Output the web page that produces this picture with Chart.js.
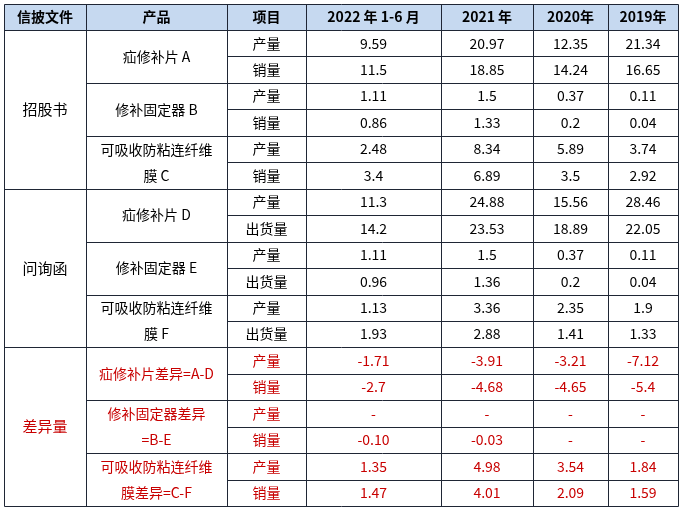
<!DOCTYPE html>
<html><head><meta charset="utf-8">
<script src="https://cdn.jsdelivr.net/npm/chart.js@4/dist/chart.umd.min.js"></script>
<style>html,body{margin:0;background:#fff}#c{width:682px;height:512px}</style>
</head><body><div id="c"><canvas id="tbl"></canvas></div>
<script>
const headers = ['信披文件', '产品', '项目', '2022 年 1-6 月', '2021 年', '2020年', '2019年'];
const groups = ['招股书', '问询函', '差异量'];
const products = [
    ['疝修补片 A', '修补固定器 B', '可吸收防粘连纤维\n膜 C'],
    ['疝修补片 D', '修补固定器 E', '可吸收防粘连纤维\n膜 F'],
    ['疝修补片差异=A-D', '修补固定器差异\n=B-E', '可吸收防粘连纤维\n膜差异=C-F']
];
const items = [
    ['产量', '销量'], ['产量', '出货量'], ['产量', '销量']
];
const y2022 = ['9.59','11.5','1.11','0.86','2.48','3.4','11.3','14.2','1.11','0.96','1.13','1.93','-1.71','-2.7','-','-0.10','1.35','1.47'];
const y2021 = ['20.97','18.85','1.5','1.33','8.34','6.89','24.88','23.53','1.5','1.36','3.36','2.88','-3.91','-4.68','-','-0.03','4.98','4.01'];
const y2020 = ['12.35','14.24','0.37','0.2','5.89','3.5','15.56','18.89','0.37','0.2','2.35','1.41','-3.21','-4.65','-','-','3.54','2.09'];
const y2019 = ['21.34','16.65','0.11','0.04','3.74','2.92','28.46','22.05','0.11','0.04','1.9','1.33','-7.12','-5.4','-','-','1.84','1.59'];

const colEdges = [4, 86, 227, 306, 441, 533, 608, 678];
const headTop = 4, headBot = 30, rowH = 26.45;
const font = '"Noto Sans CJK SC", sans-serif';

const tablePlugin = {
    id: 'table',
    afterDraw(chart) {
        const c = chart.ctx, xs = chart.scales.x, ys = chart.scales.y;
        const X = v => xs.getPixelForValue(v), Y = v => ys.getPixelForValue(v);
        const rowY = r => headBot + r * rowH;
        c.save();
        c.fillStyle = '#c6d9f0';
        c.fillRect(X(colEdges[0]), Y(headTop), X(colEdges[7]) - X(colEdges[0]), Y(headBot) - Y(headTop));
        c.textAlign = 'center'; c.textBaseline = 'middle';
        c.fillStyle = '#000'; c.font = 'bold 14px ' + font;
        headers.forEach((h, i) => c.fillText(h, (X(colEdges[i]) + X(colEdges[i + 1])) / 2, (Y(headTop) + Y(headBot)) / 2));
        const text = (s, x0, x1, r0, r1, color, size) => {
            c.fillStyle = color; c.font = size + 'px ' + font;
            const lines = s.split('\n');
            const cy = (Y(rowY(r0)) + Y(rowY(r1))) / 2, lh = 26;
            lines.forEach((l, k) => c.fillText(l, (X(x0) + X(x1)) / 2, cy + (k - (lines.length - 1) / 2) * lh));
        };
        const cols = [y2022, y2021, y2020, y2019];
        groups.forEach((g, gi) => {
            const red = gi === 2 ? '#c80000' : '#000';
            text(g, colEdges[0], colEdges[1], gi * 6, gi * 6 + 6, red, 15);
            products[gi].forEach((p, pi) => {
                const r = gi * 6 + pi * 2;
                text(p, colEdges[1], colEdges[2], r, r + 2, red, 14);
                items[gi].forEach((it, ii) => {
                    text(it, colEdges[2], colEdges[3], r + ii, r + ii + 1, red, 14);
                    cols.forEach((col, ci) => text(col[r + ii], colEdges[3 + ci], colEdges[4 + ci], r + ii, r + ii + 1, red, 14));
                });
            });
        });
        // grid lines
        c.strokeStyle = '#1f2635'; c.lineWidth = 1;
        const line = (x0, y0, x1, y1) => { c.beginPath(); c.moveTo(Math.round(X(x0)) + .5, Math.round(Y(y0)) + .5); c.lineTo(Math.round(X(x1)) + .5, Math.round(Y(y1)) + .5); c.stroke(); };
        line(colEdges[0], headTop, colEdges[7], headTop);
        line(colEdges[0], headBot, colEdges[7], headBot);
        for (let r = 1; r <= 18; r++) {
            const start = r % 6 === 0 ? 0 : (r % 2 === 0 ? 1 : 2);
            line(colEdges[start], rowY(r), colEdges[7], rowY(r));
        }
        colEdges.forEach(x => line(x, headTop, x, rowY(18)));
        c.restore();
    }
};

new Chart(document.getElementById('tbl'), {
    type: 'scatter',
    data: { datasets: [{ data: [], pointRadius: 0 }] },
    options: {
        responsive: true, maintainAspectRatio: false, animation: false,
        layout: { padding: 0 },
        plugins: { legend: { display: false }, tooltip: { enabled: false } },
        scales: {
            x: { type: 'linear', min: 0, max: 682, display: false },
            y: { type: 'linear', min: 0, max: 512, reverse: true, display: false }
        }
    },
    plugins: [tablePlugin]
});
</script></body></html>
